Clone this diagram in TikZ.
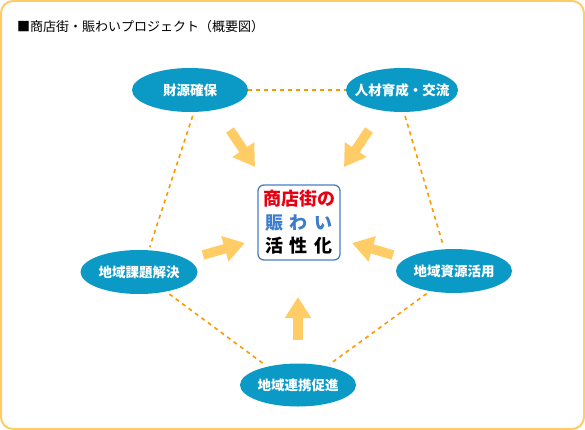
\documentclass[tikz,border=0pt]{standalone}
\usepackage{fontspec}
\setmainfont{Noto Sans CJK JP}
\usetikzlibrary{arrows.meta,shapes.geometric,positioning}

\definecolor{FrameYellow}{HTML}{FFCC66}
\definecolor{ThemeBlue}{HTML}{0B9AC6}
\definecolor{LinkOrange}{HTML}{FF9900}
\definecolor{CoreBlue}{HTML}{4A7EC2}
\definecolor{CoreRed}{HTML}{E50012}
\definecolor{CoreText}{HTML}{3D7CC9}

\begin{document}
\begin{tikzpicture}[x=1pt, y=-1pt]
		\tikzstyle{Theme}	= [ellipse, fill=ThemeBlue, text=white, inner sep=0pt, minimum width=116pt, minimum height=44pt, font=\fontsize{13.5}{16}\selectfont\bfseries]
		\tikzstyle{Core}	= [draw=CoreBlue, line width=1.3pt, rounded corners=6pt, fill=white, align=center, minimum width=82pt, minimum height=75pt, font=\fontsize{18}{23.5}\selectfont\bfseries]
		\tikzstyle{Link}	= [LinkOrange, line width=1.6pt, dash pattern=on 4pt off 4pt, shorten <=4pt, shorten >=3pt]
		\tikzstyle{Push}	= [FrameYellow, line width=9.5pt, -{Triangle[length=21pt, width=25pt]}]

		\useasboundingbox (0,0) rectangle (585,430);
		\draw [FrameYellow, line width=2pt, rounded corners=12pt] (1,1) rectangle (584,429);
		\node (title) at (17,27) [anchor=west, inner sep=0pt, font=\fontsize{13}{15}\selectfont] {■商店街・賑わいプロジェクト（概要図）};

		\node (zaigen) at (190, 90) [Theme] {\makebox[0pt]{財源確保}};
		\node (jinzai) at (402, 90) [Theme, minimum width=112pt] {\makebox[0pt]{人材育成・交流}};
		\node (kadai)  at (139,272) [Theme, minimum width=117pt] {\makebox[0pt]{地域課題解決}};
		\node (shigen) at (454,271) [Theme] {\makebox[0pt]{地域資源活用}};
		\node (renkei) at (298,385) [Theme, minimum height=43pt] {\makebox[0pt]{地域連携促進}};

		\node (core) at (299,222.5) [Core] {\color{CoreRed}商店街の\\\color{CoreText}賑\hspace{7pt}わ\hspace{7pt}い\\\color{black}活\hspace{7pt}性\hspace{7pt}化};

		\draw [Link, shorten <=0pt, shorten >=0pt] (zaigen.east) -- (jinzai.west);
		\draw [Link] (zaigen.-80) -- (kadai.66);
		\draw [Link] (jinzai.-85) -- (shigen.114);
		\draw [Link] (kadai.-36) -- (renkei.149);
		\draw [Link] (shigen.220) -- (renkei.33);

		% arrows pointing at the centre box
		\coordinate (zaigen-tail) at (230,130);
		\coordinate (zaigen-tip)  at (255,167);
		\coordinate (jinzai-tail) at (369,130);
		\coordinate (jinzai-tip)  at (344,167);
		\coordinate (kadai-tail)  at (203,255);
		\coordinate (kadai-tip)   at (245,243);
		\coordinate (shigen-tail) at (393,255);
		\coordinate (shigen-tip)  at (352,243);
		\coordinate (renkei-tail) at (298,340);
		\coordinate (renkei-tip)  at (298,297);

		\draw [Push] (zaigen-tail) -- (zaigen-tip);
		\draw [Push] (jinzai-tail) -- (jinzai-tip);
		\draw [Push] (kadai-tail) -- (kadai-tip);
		\draw [Push] (shigen-tail) -- (shigen-tip);
		\draw [Push] (renkei-tail) -- (renkei-tip);
	\end{tikzpicture}
\end{document}
